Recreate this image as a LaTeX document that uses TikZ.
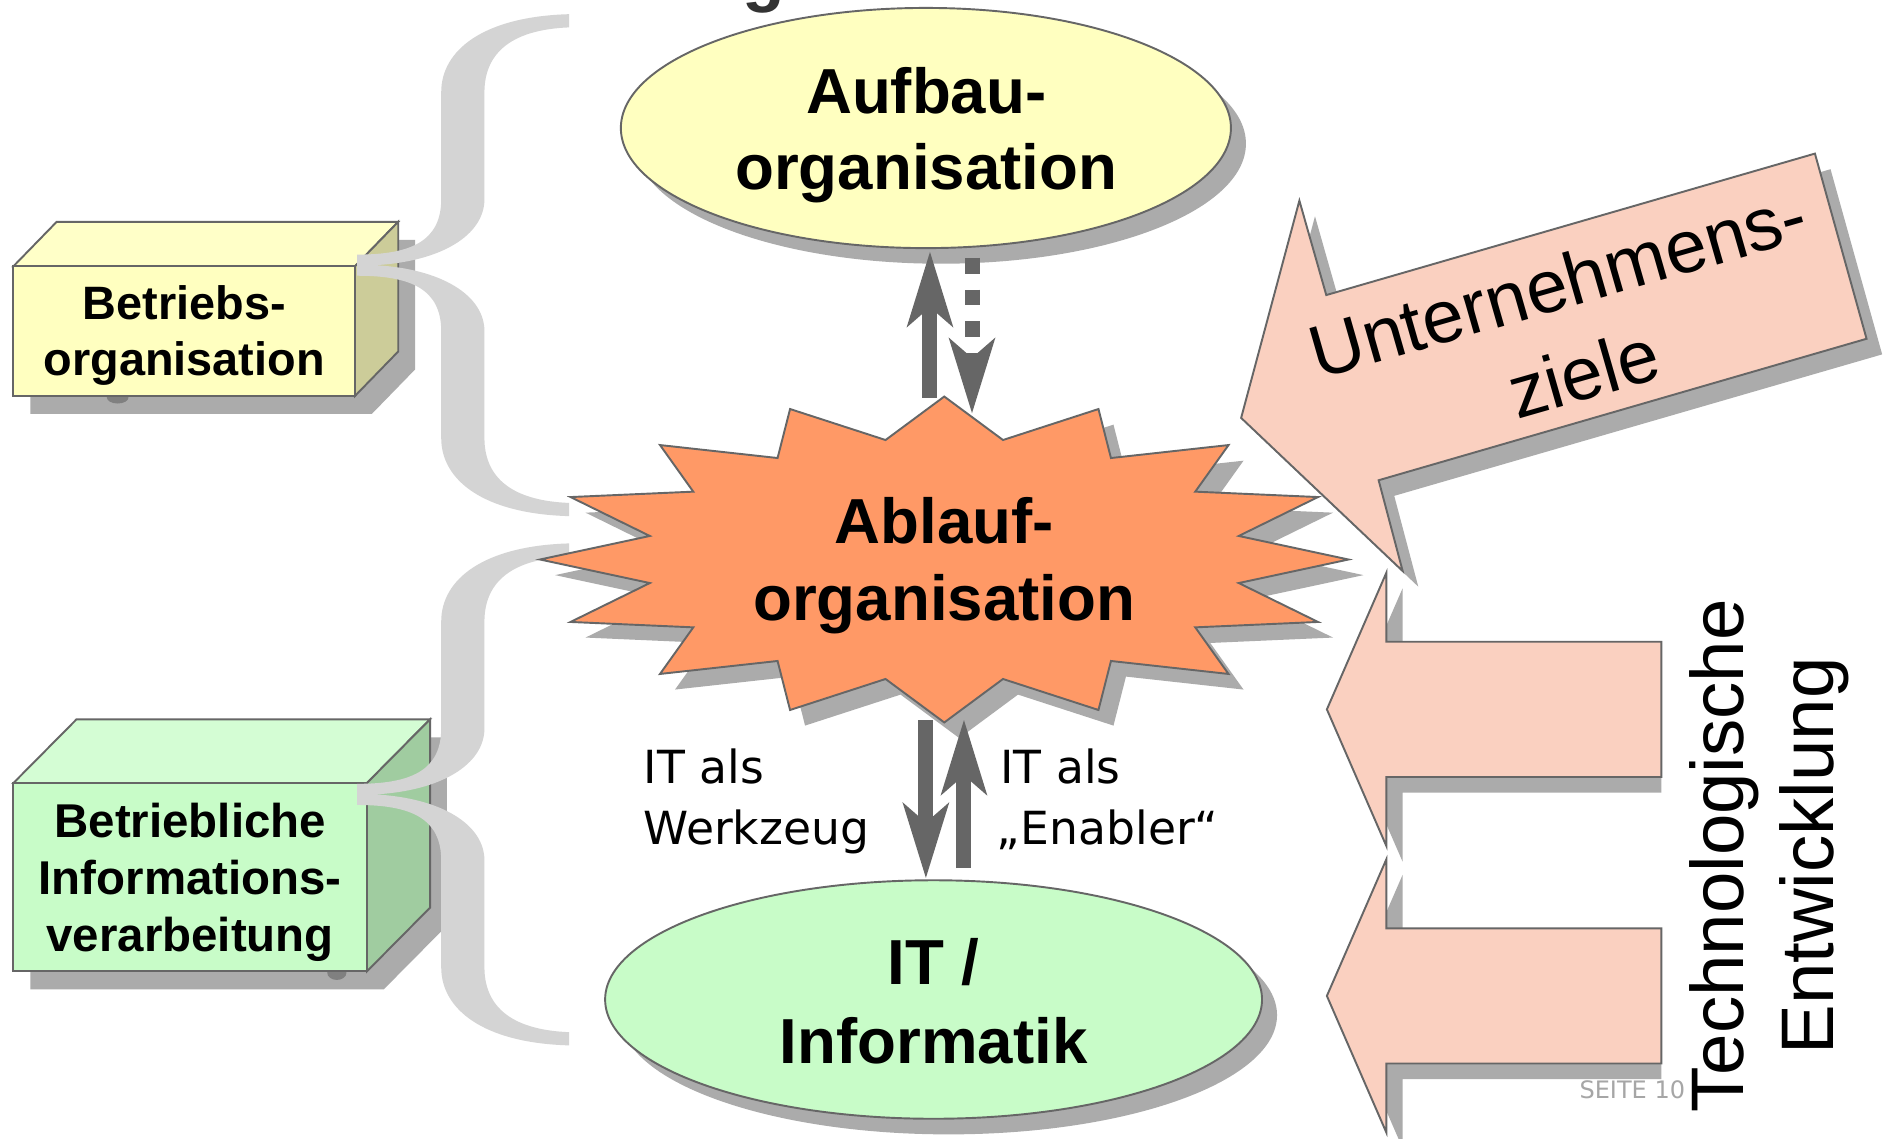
\documentclass[tikz,border=0pt]{standalone}
\usepackage{fontspec}
\setmainfont{Liberation Sans}
\newfontfamily\verdanalike{DejaVu Sans}
\usetikzlibrary{shapes.geometric,arrows.meta}

\definecolor{edgegray}{HTML}{666666}
\definecolor{shadowgray}{HTML}{ABABAB}
\definecolor{bracegray}{HTML}{D4D4D4}
\definecolor{blobgray}{HTML}{808080}
\definecolor{yellowfill}{HTML}{FFFFC0}
\definecolor{yellowtop}{HTML}{FFFFC8}
\definecolor{yellowside}{HTML}{CCCC99}
\definecolor{greenfill}{HTML}{C8FCC8}
\definecolor{greentop}{HTML}{D4FDD4}
\definecolor{greenside}{HTML}{A0CCA0}
\definecolor{starfill}{HTML}{FF9966}
\definecolor{arrowfill}{HTML}{FAD0C0}
\definecolor{titlegray}{HTML}{333333}
\definecolor{pagegray}{HTML}{A6A6A6}

\tikzset{
  % curly brace, tip at the origin, opening to the right
  graybrace/.pic={
    \fill[bracegray] (176.6,-209) .. controls (105,-207) and (70,-179) .. (70,-144)
      -- (70,-55) .. controls (70,-20) and (45,-8.8) .. (0,-8.8)
      -- (0,8.8) .. controls (45,8.8) and (70,20) .. (70,55)
      -- (70,144) .. controls (70,179) and (105,207) .. (176.6,209)
      -- (176.6,198) .. controls (125,196) and (106,174) .. (106,144)
      -- (106,55) .. controls (106,25) and (70,3) .. (15,0)
      .. controls (70,-3) and (106,-25) .. (106,-55)
      -- (106,-144) .. controls (106,-174) and (125,-196) .. (176.6,-198)
      -- cycle;
  },
  % sixteen-point burst around the origin
  burst/.pic={
    \path[pic actions] (0,-135.7) -- (48.9,-99.5) -- (128.4,-125.3) -- (138.8,-84.5)
      -- (236.7,-95.3) -- (209,-56.5) -- (311.2,-52) -- (245.2,-19.6) -- (336.6,0)
      -- (245.2,19.6) -- (311.2,52) -- (209,56.5) -- (236.7,95.3) -- (138.8,84.5)
      -- (128.4,125.3) -- (48.9,99.5) -- (0,135.7) -- (-48.9,99.5) -- (-128.4,125.3)
      -- (-138.8,84.5) -- (-236.7,95.3) -- (-209,56.5) -- (-311.2,52) -- (-245.2,19.6)
      -- (-336.6,0) -- (-245.2,-19.6) -- (-311.2,-52) -- (-209,-56.5) -- (-236.7,-95.3)
      -- (-138.8,-84.5) -- (-128.4,-125.3) -- (-48.9,-99.5) -- cycle;
  },
  % left-pointing block arrow, tip at the origin
  blockarrow/.pic={
    \path[pic actions] (0,0) -- (49.5,-113.7) -- (49.5,-56.3) -- (278.6,-56.3)
      -- (278.6,56.3) -- (49.5,56.3) -- (49.5,113.7) -- cycle;
  },
  % slanted block arrow with its tip at the origin
  goalarrow/.pic={
    \path[pic actions] (0,0) -- (48.5,-180.9) -- (70.9,-102.3) -- (477.8,-220.1)
      -- (520.8,-65.9) -- (114.5,51.9) -- (134.5,127.5) -- cycle;
  },
}

\begin{document}
\begin{tikzpicture}[x=1pt,y=-1pt,line join=miter,
  outline/.style={draw=edgegray,line width=1.6pt},
  bigbold/.style={font=\bfseries\fontsize{53}{64}\selectfont,inner sep=0pt,anchor=base},
  boxbold/.style={font=\bfseries\fontsize{39.5}{47}\selectfont,inner sep=0pt,anchor=base},
  armtext/.style={font=\fontsize{62}{78}\selectfont,inner sep=0pt,anchor=base},
  itlabel/.style={font=\verdanalike\fontsize{38}{45}\selectfont,inner sep=0pt,anchor=base west},
  conn/.style={draw=edgegray,line width=12.5pt,
    -{Stealth[length=63pt,width=39pt,inset=17pt,line width=0pt]}},
  ellshape/.style={ellipse,outline,inner sep=0pt},
]
\useasboundingbox (0,0) rectangle (1568,948);
\fill[white] (0,0) rectangle (1568,948);

% ---- yellow cuboid: Betriebsorganisation
\fill[shadowgray] (25.2,236.7) -- (61.2,199.7) -- (345.6,199.7) -- (345.6,307.7)
  -- (309.6,344.7) -- (25.2,344.7) -- cycle;
\fill[blobgray] (98,331) ellipse [x radius=9pt,y radius=5pt];
\draw[outline,fill=yellowtop] (11.2,221.7) -- (47.2,184.7) -- (331.6,184.7) -- (295.6,221.7) -- cycle;
\draw[outline,fill=yellowside] (295.6,221.7) -- (331.6,184.7) -- (331.6,292.7) -- (295.6,329.7) -- cycle;
\draw[outline,fill=yellowfill] (11.2,221.7) rectangle (295.6,329.7);

% ---- green cuboid: Betriebliche Informationsverarbeitung
\fill[shadowgray] (25.2,667) -- (77.7,614) -- (372.1,614) -- (372.1,770.8)
  -- (319.6,823.8) -- (25.2,823.8) -- cycle;
\fill[blobgray] (280.5,810) ellipse [x radius=8pt,y radius=6pt];
\draw[outline,fill=greentop] (11.2,652) -- (63.7,599) -- (358.1,599) -- (305.6,652) -- cycle;
\draw[outline,fill=greenside] (305.6,652) -- (358.1,599) -- (358.1,755.8) -- (305.6,808.8) -- cycle;
\draw[outline,fill=greenfill] (11.2,652) rectangle (305.6,808.8);

% ---- braces
\pic (bracetop) at (297.4,220.8) {graybrace};
\pic (bracebottom) at (297.4,661.5) {graybrace};

% ---- ellipses
\fill[shadowgray] (783.5,119.6) ellipse [x radius=254pt,y radius=100pt];
\node[ellshape,fill=yellowfill,minimum width=508pt,minimum height=200pt] (aufbau) at (771,106.6) {};
\fill[shadowgray] (789.9,845.3) ellipse [x radius=273.5pt,y radius=99.3pt];
\node[ellshape,fill=greenfill,minimum width=547pt,minimum height=198.6pt] (it) at (777.4,832.3) {};

% ---- burst
\pic[fill=shadowgray] at (798.8,478.9) {burst};
\pic[outline,fill=starfill] (ablauf) at (786.3,465.9) {burst};

% ---- Unternehmensziele arrow
\pic[fill=shadowgray] at (1046.5,361) {goalarrow};
\pic[outline,fill=arrowfill] (ziele) at (1033.5,348) {goalarrow};

% ---- technology arrows
\begin{scope}
  \clip (0,0) rectangle (1383.5,948);
  \pic[fill=shadowgray] at (1118.4,603.7) {blockarrow};
\end{scope}
\pic[outline,fill=arrowfill] (techup) at (1104.9,590.7) {blockarrow};
\begin{scope}
  \clip (0,0) rectangle (1383.5,948);
  \pic[fill=shadowgray] at (1118.4,842.3) {blockarrow};
\end{scope}
\pic[outline,fill=arrowfill] (techdown) at (1104.9,829.3) {blockarrow};

% ---- connectors
\coordinate (aufUpFrom) at (774.4,331.4);
\coordinate (aufUpTo) at (774.4,209.8);
\coordinate (aufDnFrom) at (809.4,214.8);
\coordinate (aufDnTo) at (809.4,344);
\coordinate (itDnFrom) at (771,599.6);
\coordinate (itDnTo) at (771,731);
\coordinate (itUpFrom) at (802.7,722.8);
\coordinate (itUpTo) at (802.7,599.6);
\draw[conn] (aufUpFrom) -- (aufUpTo);
\draw[conn,dash pattern=on 13pt off 13.4pt] (aufDnFrom) -- (aufDnTo);
\draw[conn] (itDnFrom) -- (itDnTo);
\draw[conn] (itUpFrom) -- (itUpTo);

% ---- texts
\node[bigbold] (aufbauA) at (771.3,94.1) {Aufbau-};
\node[bigbold] (aufbauB) at (771.3,158.2) {organisation};
\node[bigbold] (ablaufA) at (786.3,452.2) {Ablauf-};
\node[bigbold] (ablaufB) at (786.3,516.3) {organisation};
\node[bigbold] (itA) at (777.4,820.2) {IT /};
\node[bigbold] (itB) at (777.4,885.2) {Informatik};

\node[boxbold,font=\bfseries\fontsize{39}{47}\selectfont] (betrA) at (153.4,266) {Betriebs-};
\node[boxbold,font=\bfseries\fontsize{39}{47}\selectfont] (betrB) at (153.4,313) {organisation};
\node[boxbold] (infoA) at (158.4,697.7) {Betriebliche};
\node[boxbold] (infoB) at (158.4,744.9) {Informations-};
\node[boxbold] (infoC) at (158.4,792) {verarbeitung};

\node[itlabel] (werkA) at (535.7,652.3) {IT als};
\node[itlabel] (werkB) at (535.7,703.6) {Werkzeug};
\node[itlabel] (enabA) at (832.7,652.3) {IT als};
\node[itlabel] (enabB) at (830,703.6) {„Enabler“};

\node[font=\fontsize{62}{78}\selectfont,inner sep=0pt,align=center,rotate=16]
  (zieletext) at (1307.8,273.1) {Unternehmens-\\ziele};

\node[font=\verdanalike\fontsize{20}{24}\selectfont,text=pagegray,inner sep=0pt,anchor=base west]
  (seite) at (1315.1,914.6) {SEITE 10};

\node[armtext,rotate=90] (techA) at (1451.6,712.7) {Technologische};
\node[armtext,rotate=90] (techB) at (1526.8,712.7) {Entwicklung};

% title line above the picture, only its descender reaches in
\node[font=\bfseries\fontsize{58}{70}\selectfont,text=titlegray,inner sep=0pt,anchor=base]
  (titleg) at (636,-1) {g};
\end{tikzpicture}
\end{document}
